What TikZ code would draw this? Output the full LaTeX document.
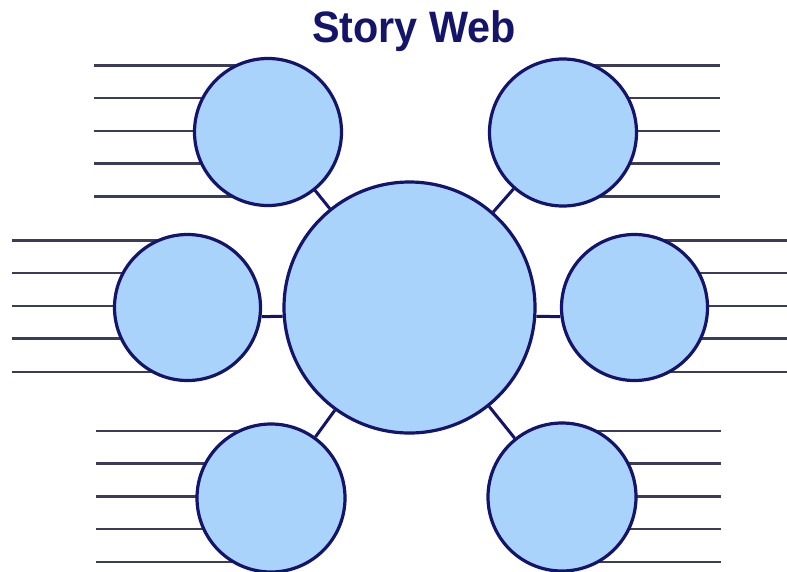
\documentclass[tikz,border=0pt]{standalone}
\usepackage{fontspec}
\setmainfont{Liberation Sans}
\usetikzlibrary{backgrounds}
\definecolor{navy}{HTML}{14146A}
\definecolor{bubble}{HTML}{AAD3FB}
\definecolor{rule}{HTML}{3C3C58}
\begin{document}
\begin{tikzpicture}[x=1pt,y=-1pt,
  bubble/.style={circle,draw=navy,fill=bubble,line width=3.2pt,inner sep=0pt,minimum size=#1},
  link/.style={draw=navy,line width=3pt},
  writeline/.style={draw=rule,line width=2.4pt}]
\useasboundingbox (0,0) rectangle (787,571);
\node[text=navy,font=\bfseries\fontsize{44}{44}\selectfont] (title) at (414,31) {\scalebox{0.94}[1]{Story Web}};
\node[bubble=251pt] (c) at (409.5,307.5) {};
\node[bubble=147pt] (tl) at (268,132) {};
\node[bubble=147pt] (tr) at (563,132.5) {};
\node[bubble=146pt] (ml) at (187.5,307.5) {};
\node[bubble=146pt] (mr) at (634.5,307.5) {};
\node[bubble=148pt] (bl) at (271,498) {};
\node[bubble=148pt] (br) at (562,497) {};
\draw[link] (c) -- (tl);
\draw[link] (c) -- (tr);
\draw[link] (c) -- (bl);
\draw[link] (c) -- (br);
\draw[link] (ml.-7) -- (c.184);
\draw[link] (c.-4) -- (mr.187);
\begin{pgfonlayer}{background}
\fill[white] (0,0) rectangle (787,571);
\foreach \y in {65.5,98,131,163.5,196.5}{
  \coordinate (a) at (94,\y);
  \draw[writeline] (a) -- (tl.center |- a);
  \coordinate (b) at (720,\y);
  \draw[writeline] (tr.center |- b) -- (b);
}
\foreach \y in {240.5,273,306,338.5,372}{
  \coordinate (a) at (12,\y);
  \draw[writeline] (a) -- (ml.center |- a);
  \coordinate (b) at (787,\y);
  \draw[writeline] (mr.center |- b) -- (b);
}
\foreach \y in {431,463.5,496.5,529,562}{
  \coordinate (a) at (96,\y);
  \draw[writeline] (a) -- (bl.center |- a);
  \coordinate (b) at (721,\y);
  \draw[writeline] (br.center |- b) -- (b);
}
\end{pgfonlayer}
\end{tikzpicture}
\end{document}
